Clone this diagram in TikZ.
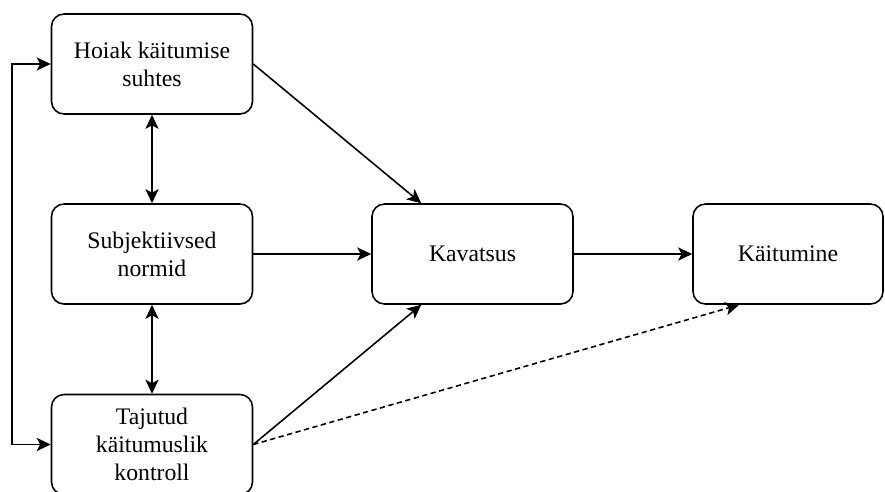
\documentclass[tikz,border=0pt]{standalone}
\usepackage{fontspec}
\setmainfont{Liberation Serif}
\usetikzlibrary{arrows.meta}

\begin{document}
\begin{tikzpicture}[
    x=0.02cm, y=-0.02cm,
    every node/.style={font=\fontsize{13.5}{16}\selectfont},
    box/.style={draw, rectangle, rounded corners=0.25cm, line width=0.9pt, minimum width=4.02cm, minimum height=2cm, align=center},
    arr/.style={-{Stealth[length=8pt,width=7.5pt,inset=2pt]}, line width=0.9pt},
    biarr/.style={{Stealth[length=8pt,width=7.5pt,inset=2pt]}-{Stealth[length=8pt,width=7.5pt,inset=2pt]}, line width=0.9pt}
]
    \useasboundingbox (0,0) rectangle (885,491);

    % three determinants on the left
    \node[box] (hoiak) at (152,64) {Hoiak käitumise\\suhtes};
    \node[box] (normid) at (152,254) {Subjektiivsed\\normid};
    \node[box] (kontroll) at (152,444.5) {Tajutud\\käitumuslik\\kontroll};

    % intention and behaviour
    \node[box] (kavatsus) at (472.5,254) {Kavatsus};
    \node[box, minimum width=3.8cm] (kaitumine) at (788,254) {Käitumine};

    % links between the determinants
    \draw[biarr] (hoiak) -- (normid);
    \draw[biarr] (normid) -- (kontroll);
    \draw[biarr] (hoiak.west) -- ++(-39,0) |- (kontroll.west);

    % paths to intention
    \draw[arr] (hoiak.east) -- ([xshift=1cm]kavatsus.north west);
    \draw[arr] (normid) -- (kavatsus);
    \draw[arr] (kontroll.east) -- ([xshift=1cm]kavatsus.south west);

    % intention to behaviour, direct control path dashed
    \draw[arr] (kavatsus) -- (kaitumine);
    \draw[arr, dashed, dash pattern=on 3pt off 2pt] (kontroll.east) -- ([xshift=0.94cm]kaitumine.south west);
\end{tikzpicture}
\end{document}
